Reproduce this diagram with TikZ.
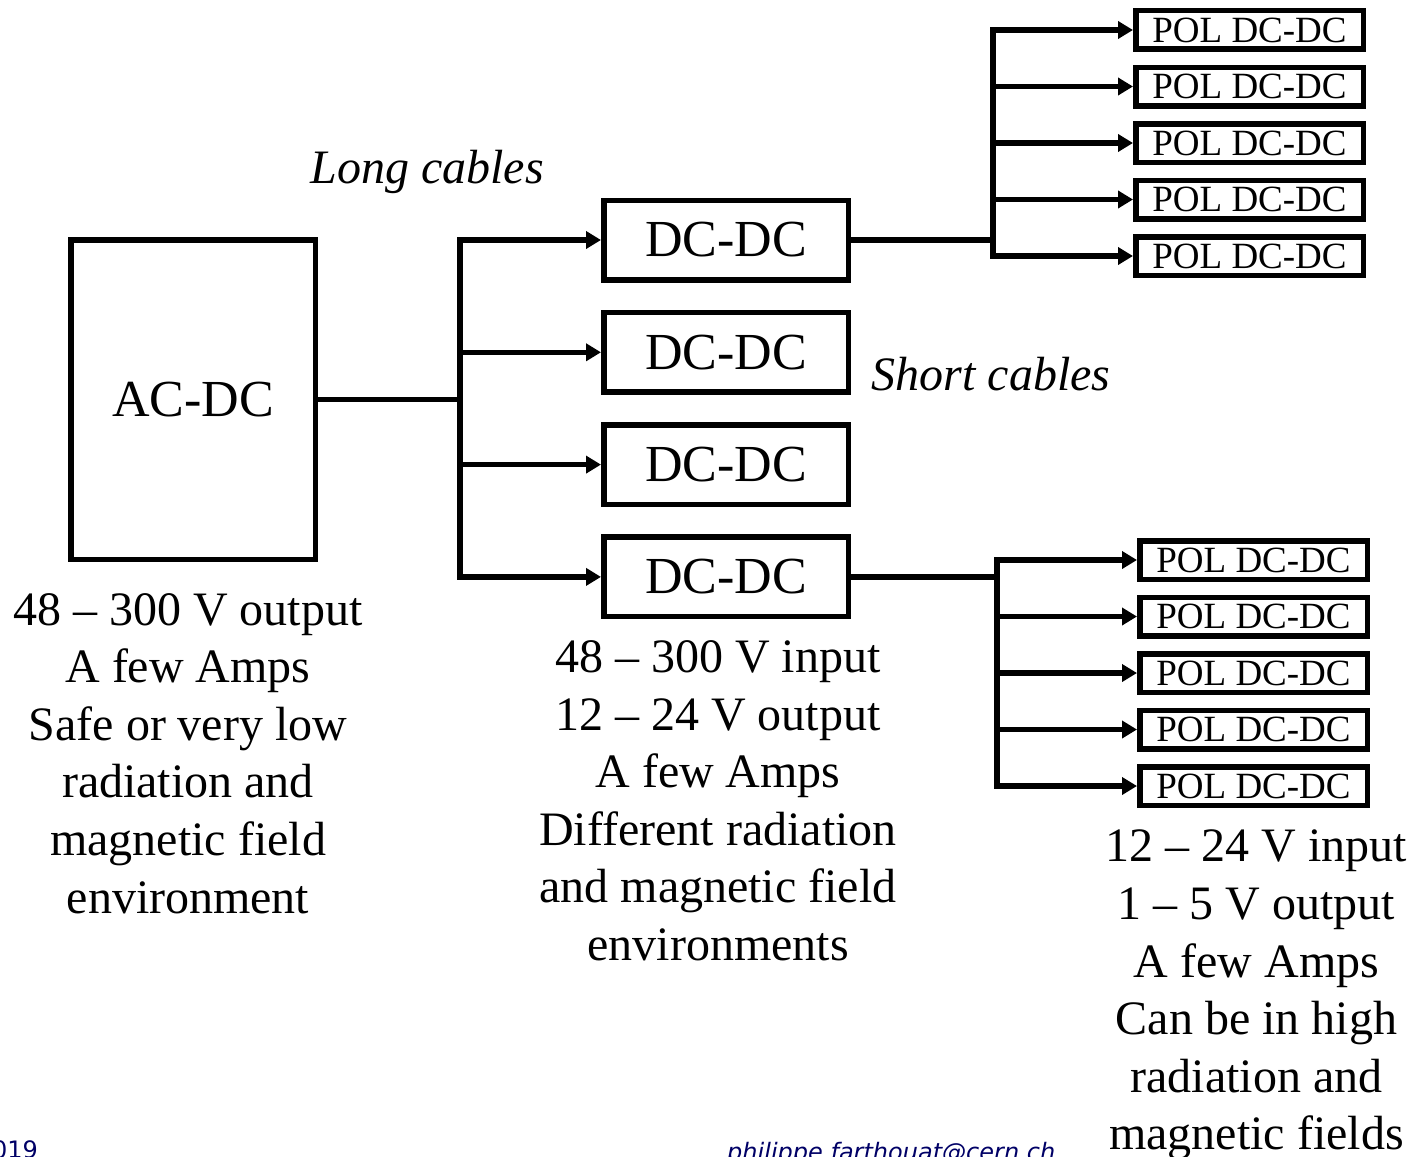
\documentclass[tikz,border=0pt]{standalone}
\usepackage{fontspec}
\setmainfont{Liberation Serif}
\newfontfamily\footfont{DejaVu Sans}
\usepackage{tikz}
\usetikzlibrary{arrows.meta,positioning}
\definecolor{navy}{HTML}{000066}

\begin{document}
\begin{tikzpicture}[
  x=1pt, y=-1pt,
  node distance=27.3pt,
  box/.style={draw, line width=5.5pt, inner sep=0pt, minimum width=244.5pt,
              minimum height=79.5pt, font=\fontsize{52}{52}\selectfont},
  polbox/.style={draw, line width=5.5pt, inner sep=0pt, minimum width=227.5pt,
                 minimum height=38.5pt, font=\fontsize{37}{37}\selectfont},
  desc/.style={align=center, inner sep=0pt, font=\fontsize{48}{57.6}\selectfont},
  cable/.style={inner sep=0pt, font=\fontsize{48}{48}\selectfont\itshape},
  foot/.style={inner sep=0pt, text=navy, font=\fontsize{24}{24}\footfont},
  wire/.style={line width=5.5pt, line cap=rect},
  arrow/.style={wire, -{Triangle[length=15pt,width=17pt]}}
]
  \useasboundingbox (0,0) rectangle (1412,1156);

  \node[box, minimum height=319.5pt] (acdc) at (193,399.5) {AC-DC};
  \node[box] (dc1) at (726,240) {DC-DC};
  \node[box, below=of dc1] (dc2) {DC-DC};
  \node[box, below=of dc2] (dc3) {DC-DC};
  \node[box, below=of dc3] (dc4) {DC-DC};

  % point of load converters
  \node[polbox] (polA1) at (1249.5,30) {POL DC-DC};
  \node[polbox] (polB1) at (1253.5,560) {POL DC-DC};
  \foreach \g in {A,B}{
    \foreach \i [count=\j from 2] in {1,...,4}
      \node[polbox, below=12.5pt of pol\g\i] (pol\g\j) {POL DC-DC};
  }

  \coordinate (split) at (460,399.5);
  \coordinate (splitA) at (993,0);
  \coordinate (splitB) at (997,0);

  \draw[wire] (acdc.east) -- (split);
  \draw[wire] (split |- dc1) -- (split |- dc4);
  \foreach \i in {1,...,4}
    \draw[arrow] (split |- dc\i) -- (dc\i.west);

  \draw[wire] (dc1.east) -- (dc1.east -| splitA);
  \draw[wire] (dc4.east) -- (dc4.east -| splitB);
  \draw[wire] (splitA |- polA1) -- (splitA |- polA5);
  \draw[wire] (splitB |- polB1) -- (splitB |- polB5);
  \foreach \g in {A,B}
    \foreach \i in {1,...,5}
      \draw[arrow] (split\g |- pol\g\i) -- (pol\g\i.west);

  \node[cable, anchor=base] (long) at (427,183) {Long cables};
  \node[cable, anchor=base] (short) at (991,390) {Short cables};

  \node[desc, below=31pt of acdc, xshift=-5pt] (acdcnote) {48 -- 300 V output\\A few Amps\\Safe or very low\\radiation and\\magnetic field\\environment};
  \node[desc, below=21pt of dc4, xshift=-8pt] (dcnote) {48 -- 300 V input\\12 -- 24 V output\\A few Amps\\Different radiation\\and magnetic field\\environments};
  \node[desc, below=22pt of polB5, xshift=3pt] (polnote) {12 -- 24 V input\\1 -- 5 V output\\A few Amps\\Can be in high\\radiation and\\magnetic fields};

  \node[foot, anchor=base west] (year) at (-8,1158) {019};
  \node[foot, anchor=base west, font=\fontsize{24}{24}\footfont\itshape] (mail) at (727,1160) {philippe.farthouat@cern.ch};
\end{tikzpicture}
\end{document}
